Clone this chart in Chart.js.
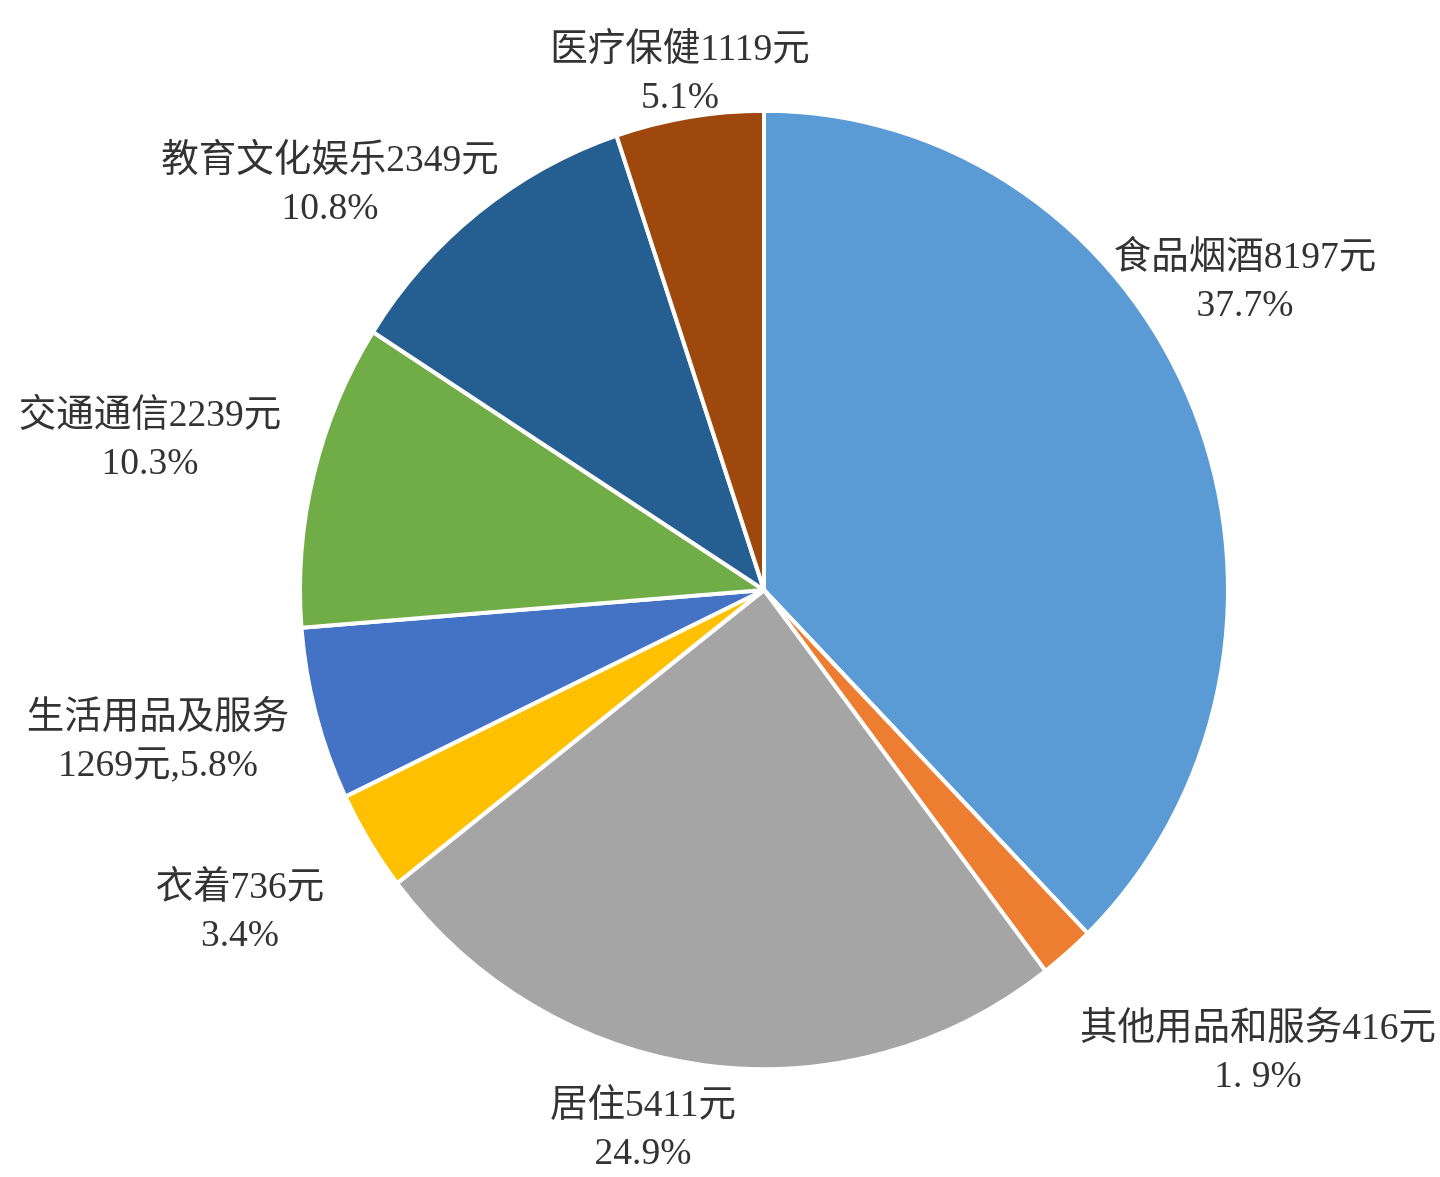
<!DOCTYPE html>
<html>
<head>
<meta charset="utf-8">
<script src="https://cdn.jsdelivr.net/npm/chart.js@4/dist/chart.umd.min.js"></script>
<style>
  html, body { margin: 0; padding: 0; background: #fff; }
  #wrap { width: 1440px; height: 1177px; }
</style>
</head>
<body>
<div id="wrap"><canvas id="pie"></canvas></div>
<script>
// categories, amounts (yuan) and shares as printed on the chart
const categories = ['食品烟酒', '其他用品和服务', '居住', '衣着', '生活用品及服务', '交通通信', '教育文化娱乐', '医疗保健']
const amounts = [8197, 416, 5411, 736, 1269, 2239, 2349, 1119]
const shares = ['37.7%', '1. 9%', '24.9%', '3.4%', '5.8%', '10.3%', '10.8%', '5.1%']
const colors = ['#5b9bd5', '#ed7d31', '#a5a5a5', '#ffc000', '#4472c4', '#70ad47', '#255e91', '#9e480e']

// label text lines, built from the arrays above
const labelLines = categories.map((c, i) => {
  if (c === '生活用品及服务') return [c, amounts[i] + '元,' + shares[i]]
  return [c + amounts[i] + '元', shares[i]]
})
// where each label sits, relative to the pie centre (px)
const labelOffsets = [[481, -332], [494, 439], [-121, 516], [-524, 298], [-606, 128], [-614, -174], [-434, -429], [-84, -540]]

const stretchY = 1.033  // the reference pie is a little taller than wide

const stretchPlugin = {
  id: 'stretch',
  beforeDatasetsDraw(chart) {
    const arc = chart.getDatasetMeta(0).data[0]
    const ctx = chart.ctx
    ctx.save()
    ctx.translate(arc.x, arc.y)
    ctx.scale(1, stretchY)
    ctx.translate(-arc.x, -arc.y)
  },
  afterDatasetsDraw(chart) {
    chart.ctx.restore()
  }
}

const labelPlugin = {
  id: 'outsideLabels',
  afterDraw(chart) {
    const ctx = chart.ctx
    const arcs = chart.getDatasetMeta(0).data
    ctx.save()
    ctx.font = '37.5px "Liberation Serif", "Noto Sans CJK SC", serif'
    ctx.fillStyle = '#333333'
    ctx.textAlign = 'center'
    ctx.textBaseline = 'middle'
    arcs.forEach((arc, i) => {
      const x = arc.x + labelOffsets[i][0]
      const y = arc.y + labelOffsets[i][1]
      labelLines[i].forEach((line, j) => {
        ctx.fillText(line, x, y + j * 48)
      })
    })
    ctx.restore()
  }
}

new Chart(document.getElementById('pie'), {
  type: 'pie',
  data: {
    labels: categories,
    datasets: [{
      data: amounts,
      backgroundColor: colors,
      borderColor: '#ffffff',
      borderWidth: 4
    }]
  },
  options: {
    responsive: true,
    maintainAspectRatio: false,
    animation: false,
    layout: { padding: { left: 298, right: 210, top: 124, bottom: 121 } },
    plugins: {
      legend: { display: false },
      tooltip: { enabled: false }
    }
  },
  plugins: [stretchPlugin, labelPlugin]
})
</script>
</body>
</html>
